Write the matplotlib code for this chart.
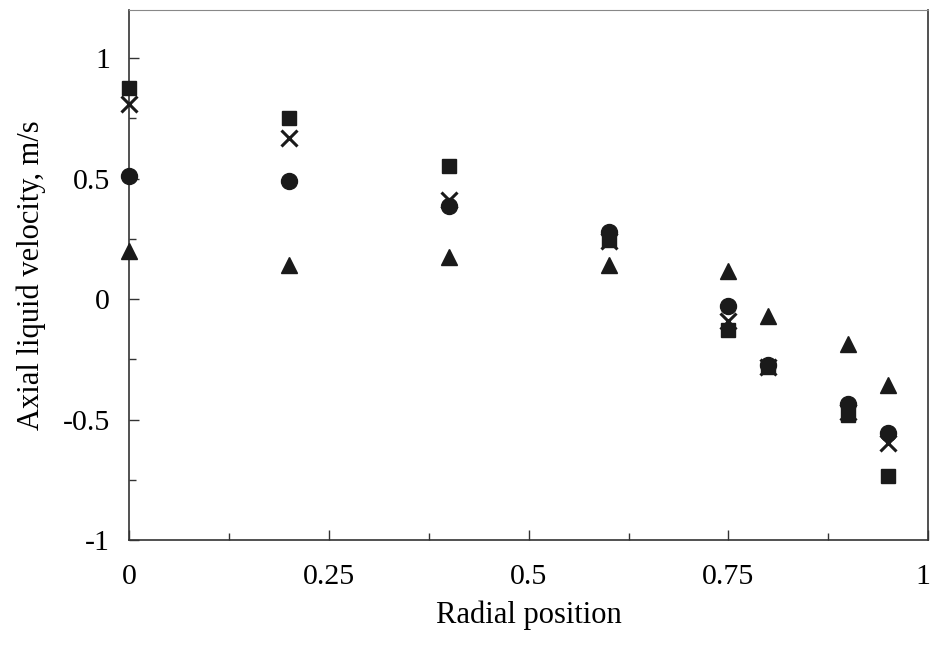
import matplotlib
matplotlib.use("Agg")
import matplotlib.pyplot as plt
from matplotlib.ticker import MultipleLocator, FixedLocator
import matplotlib.transforms as mtransforms

radial = [0, 0.2, 0.4, 0.6, 0.75, 0.8, 0.9, 0.95]
triangle_vals = [0.20, 0.14, 0.175, 0.14, 0.115, -0.07, -0.185, -0.355]
x_vals = [0.81, 0.67, 0.41, 0.24, -0.09, -0.28, -0.47, -0.595]
circle_vals = [0.51, 0.49, 0.385, 0.28, -0.03, -0.275, -0.435, -0.555]
square_vals = [0.875, 0.75, 0.55, 0.245, -0.13, -0.28, -0.48, -0.735]

xtick_vals = [0, 0.25, 0.5, 0.75, 1]
xtick_labels = ["0", "0.25", "0.5", "0.75", "1"]
ytick_vals = [-1, -0.5, 0, 0.5, 1]
ytick_labels = ["-1", "-0.5", "0", "0.5", "1"]

plt.rcParams['font.family'] = ['Liberation Serif', 'DejaVu Serif']

fig = plt.figure(figsize=(9.3, 6.5), dpi=100)
ax = fig.add_axes([0.139, 0.169, 0.859, 0.816])

c = '#1a1a1a'
ax.plot(radial, triangle_vals, linestyle='none', marker='^', markersize=11,
        color=c, clip_on=False, zorder=3)
ax.plot(radial, x_vals, linestyle='none', marker='x', markersize=11,
        markeredgewidth=2.2, color=c, clip_on=False, zorder=3)
ax.plot(radial, circle_vals, linestyle='none', marker='o', markersize=11.5,
        color=c, clip_on=False, zorder=4)
ax.plot(radial, square_vals, linestyle='none', marker='s', markersize=10,
        color=c, clip_on=False, zorder=5)

ax.set_xlim(0, 1)
ax.set_ylim(-1, 1.2)

ax.set_xticks(xtick_vals)
ax.set_xticklabels(xtick_labels)
ax.set_yticks(ytick_vals)
ax.set_yticklabels(ytick_labels)
ax.xaxis.set_minor_locator(MultipleLocator(0.125))
ax.yaxis.set_minor_locator(FixedLocator([-0.75, -0.25, 0.25, 0.75]))

ax.tick_params(axis='both', which='major', direction='in', length=7, width=1,
               labelsize=21.5, color='#333333')
ax.tick_params(axis='both', which='minor', direction='in', length=5, width=1,
               color='#333333')
ax.tick_params(axis='x', which='major', pad=17)
ax.tick_params(axis='y', which='major', pad=14)

# nudge last x tick label so it stays inside the figure
last = ax.get_xticklabels()[-1]
last.set_transform(last.get_transform() +
                   mtransforms.ScaledTranslation(-4 / 72, 0, fig.dpi_scale_trans))

for name, sp in ax.spines.items():
    sp.set_color('#333333')
    sp.set_linewidth(1.2)
ax.spines['top'].set_color('#888888')
ax.spines['top'].set_linewidth(0.8)

ax.set_xlabel('Radial position', fontsize=22, labelpad=8)
ax.set_ylabel('Axial liquid velocity, m/s', fontsize=22, labelpad=12)

fig.savefig('out.png', dpi=100)
